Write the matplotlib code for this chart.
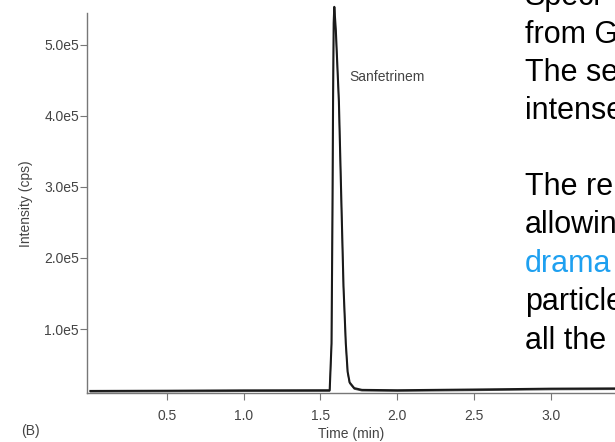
import matplotlib.pyplot as plt

plt.rcParams['font.family'] = ['Liberation Sans', 'DejaVu Sans']

# chromatogram trace (time in min, intensity in cps)
time_min = [0.0, 0.5, 1.0, 1.5, 1.56, 1.572, 1.578, 1.582, 1.586, 1.59, 1.60, 1.62,
            1.636, 1.65, 1.665, 1.677, 1.69, 1.72, 1.77, 2.0, 2.5, 3.0, 3.45]
intensity = [1.30e4, 1.33e4, 1.38e4, 1.40e4, 1.40e4, 8.0e4, 2.6e5, 4.2e5, 5.3e5, 5.53e5,
             5.2e5, 4.2e5, 2.8e5, 1.6e5, 8.0e4, 4.0e4, 2.5e4, 1.7e4, 1.45e4, 1.40e4,
             1.50e4, 1.62e4, 1.66e4]

x_ticks = [0.5, 1.0, 1.5, 2.0, 2.5, 3.0]
y_ticks = [1e5, 2e5, 3e5, 4e5, 5e5]
y_tick_labels = ['1.0e5', '2.0e5', '3.0e5', '4.0e5', '5.0e5']

side_lines = ['Speci', 'from G', 'The se', 'intense', '', 'The re', 'allowin', 'drama',
              'particle', 'all the']
side_colors = ['black'] * 7 + ['#1ea0f0'] + ['black'] * 2

fig = plt.figure(figsize=(6.15, 4.42), dpi=100)
ax = fig.add_axes([0.142, 0.110, 0.858, 0.860])

ax.plot(time_min, intensity, color='#1a1a1a', lw=1.5, clip_on=False, zorder=3)
ax.plot(time_min, [v - 1500 for v in intensity], color='#555555', lw=0.8, clip_on=False, zorder=2)

ax.set_xlim(-0.02, 3.42)
ax.set_ylim(9600, 5.44e5)
ax.set_xticks(x_ticks)
ax.set_xticklabels([f'{t:.1f}' for t in x_ticks])
ax.set_yticks(y_ticks)
ax.set_yticklabels(y_tick_labels)

for side in ('top', 'right'):
    ax.spines[side].set_visible(False)
for side in ('left', 'bottom'):
    ax.spines[side].set_color('#777777')
    ax.spines[side].set_linewidth(1.0)

ax.tick_params(axis='both', direction='out', length=5, width=0.8, color='#777777',
               labelsize=10, labelcolor='#444444')
ax.tick_params(axis='x', pad=6)
ax.tick_params(axis='y', pad=1)
ax.set_xlabel('Time (min)', fontsize=10, color='#444444', labelpad=3)
ax.set_ylabel('Intensity (cps)', fontsize=10, color='#444444', labelpad=8)

ax.text(1.69, 4.54e5, 'Sanfetrinem', fontsize=10, color='#444444', va='center')
fig.text(21 / 615, 1 - 431 / 442, '(B)', fontsize=10, color='#444444', va='center')

# overlapping slide text, cut at the right edge
baselines = [5, 43, 81, 119, 157, 195, 233, 272, 310, 349]
for line, color, yb in zip(side_lines, side_colors, baselines):
    if line:
        fig.text(525 / 615, 1 - yb / 442, line, fontsize=22, color=color, va='baseline')

fig.savefig('out.png', dpi=100)
